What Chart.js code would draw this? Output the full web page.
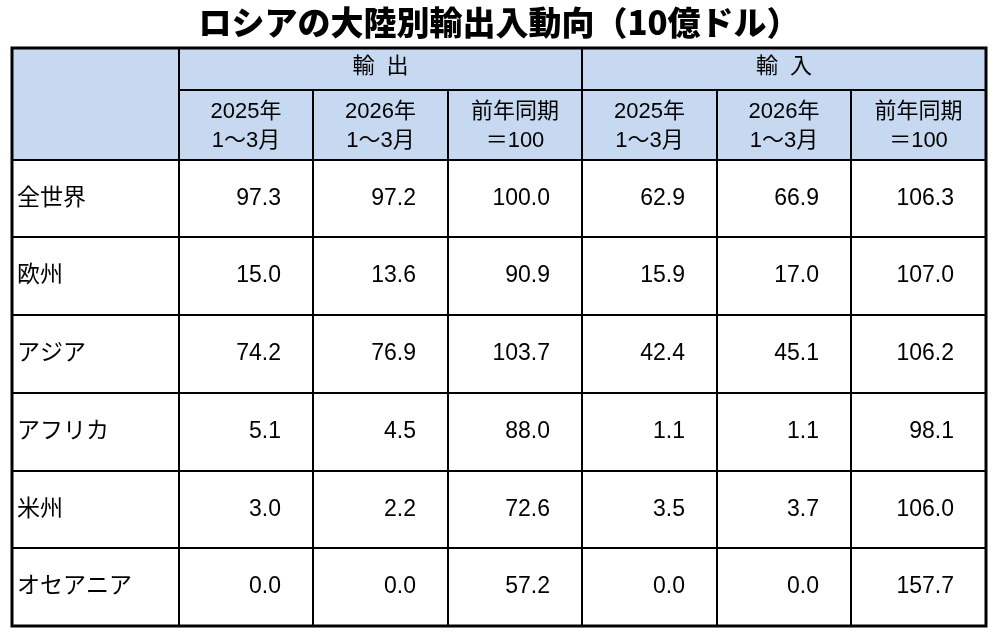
<!DOCTYPE html>
<html lang="ja">
<head>
<meta charset="utf-8">
<title>ロシアの大陸別輸出入動向</title>
<script src="https://cdn.jsdelivr.net/npm/chart.js@4.4.1/dist/chart.umd.min.js"></script>
<style>
  html, body { margin: 0; padding: 0; background: #fff; }
  canvas { display: block; }
</style>
</head>
<body>
<canvas id="tbl" width="1000" height="636"></canvas>
<script>
// data (10億ドル)
const regions = ["全世界", "欧州", "アジア", "アフリカ", "米州", "オセアニア"];
const export2025 = [97.3, 15.0, 74.2, 5.1, 3.0, 0.0];
const export2026 = [97.2, 13.6, 76.9, 4.5, 2.2, 0.0];
const exportIndex = [100.0, 90.9, 103.7, 88.0, 72.6, 57.2];
const import2025 = [62.9, 15.9, 42.4, 1.1, 3.5, 0.0];
const import2026 = [66.9, 17.0, 45.1, 1.1, 3.7, 0.0];
const importIndex = [106.3, 107.0, 106.2, 98.1, 106.0, 157.7];
const groupLabels = ["輸  出", "輸  入"];
const columnHeaders = [["2025年", "1～3月"], ["2026年", "1～3月"], ["前年同期", "＝100"]];

const columns = [export2025, export2026, exportIndex, import2025, import2026, importIndex];

// layout, in scale units
const colWidths = [1.24, 1, 1, 1, 1, 1, 1];
const rowHeights = [0.54, 0.9, 1, 1, 1, 1, 1, 1];
const headerBlue = "#c6d9f1";
const fontFamily = '"Liberation Sans", "Noto Sans CJK JP", sans-serif';

const edges = (arr) => arr.reduce((acc, w) => { acc.push(acc[acc.length - 1] + w); return acc; }, [0]);
const colEdges = edges(colWidths);
const rowEdges = edges(rowHeights);

const tablePlugin = {
  id: "tablePlugin",
  afterDraw(chart) {
    const { ctx, scales } = chart;
    const X = (i) => Math.round(scales.x.getPixelForValue(colEdges[i]));
    const Y = (j) => Math.round(scales.y.getPixelForValue(rowEdges[j]));
    const nCol = colWidths.length;
    const nRow = rowHeights.length;

    ctx.save();
    // header background
    ctx.fillStyle = headerBlue;
    ctx.fillRect(X(0), Y(0), X(nCol) - X(0), Y(2) - Y(0));

    // grid lines
    ctx.strokeStyle = "#000";
    ctx.lineWidth = 2;
    const line = (x1, y1, x2, y2) => {
      ctx.beginPath();
      ctx.moveTo(x1, y1);
      ctx.lineTo(x2, y2);
      ctx.stroke();
    };
    line(X(1), Y(1), X(nCol), Y(1));
    for (let j = 2; j < nRow; j++) line(X(0), Y(j), X(nCol), Y(j));
    line(X(1), Y(0), X(1), Y(nRow));
    line(X(4), Y(0), X(4), Y(nRow));
    [2, 3, 5, 6].forEach((i) => line(X(i), Y(1), X(i), Y(nRow)));
    ctx.lineWidth = 3;
    ctx.strokeRect(X(0), Y(0), X(nCol) - X(0), Y(nRow) - Y(0));

    ctx.fillStyle = "#000";
    ctx.textBaseline = "middle";

    // group headers
    ctx.font = "22px " + fontFamily;
    ctx.textAlign = "center";
    const h1 = (Y(0) + Y(1)) / 2 - 2;
    ctx.fillText(groupLabels[0], (X(1) + X(4)) / 2, h1);
    ctx.fillText(groupLabels[1], (X(4) + X(7)) / 2, h1);

    // column headers
    const h2 = (Y(1) + Y(2)) / 2;
    for (let c = 0; c < 6; c++) {
      const lines = columnHeaders[c % 3];
      const cx = (X(c + 1) + X(c + 2)) / 2;
      ctx.fillText(lines[0], cx, h2 - 13);
      ctx.fillText(lines[1], cx, h2 + 16);
    }

    // body
    ctx.font = "23px " + fontFamily;
    regions.forEach((name, r) => {
      const cy = (Y(r + 2) + Y(r + 3)) / 2;
      ctx.textAlign = "left";
      ctx.fillText(name, X(0) + 5, cy);
      ctx.textAlign = "right";
      columns.forEach((vals, c) => {
        ctx.fillText(vals[r].toFixed(1), X(c + 2) - 32, cy);
      });
    });
    ctx.restore();
  }
};

new Chart(document.getElementById("tbl"), {
  type: "scatter",
  data: { datasets: [] },
  options: {
    responsive: false,
    animation: false,
    devicePixelRatio: 1,
    layout: { padding: { left: 12, right: 14, top: 0, bottom: 10 } },
    plugins: {
      legend: { display: false },
      tooltip: { enabled: false },
      title: {
        display: true,
        text: "ロシアの大陸別輸出入動向（10億ドル）",
        color: "#000",
        font: { family: '"Noto Sans CJK JP", sans-serif', size: 33, weight: "900", lineHeight: 1.2 },
        padding: { top: 3, bottom: 5 }
      }
    },
    scales: {
      x: { type: "linear", min: 0, max: colEdges[colEdges.length - 1], display: false },
      y: { type: "linear", min: 0, max: rowEdges[rowEdges.length - 1], reverse: true, display: false }
    }
  },
  plugins: [tablePlugin]
});
</script>
</body>
</html>
